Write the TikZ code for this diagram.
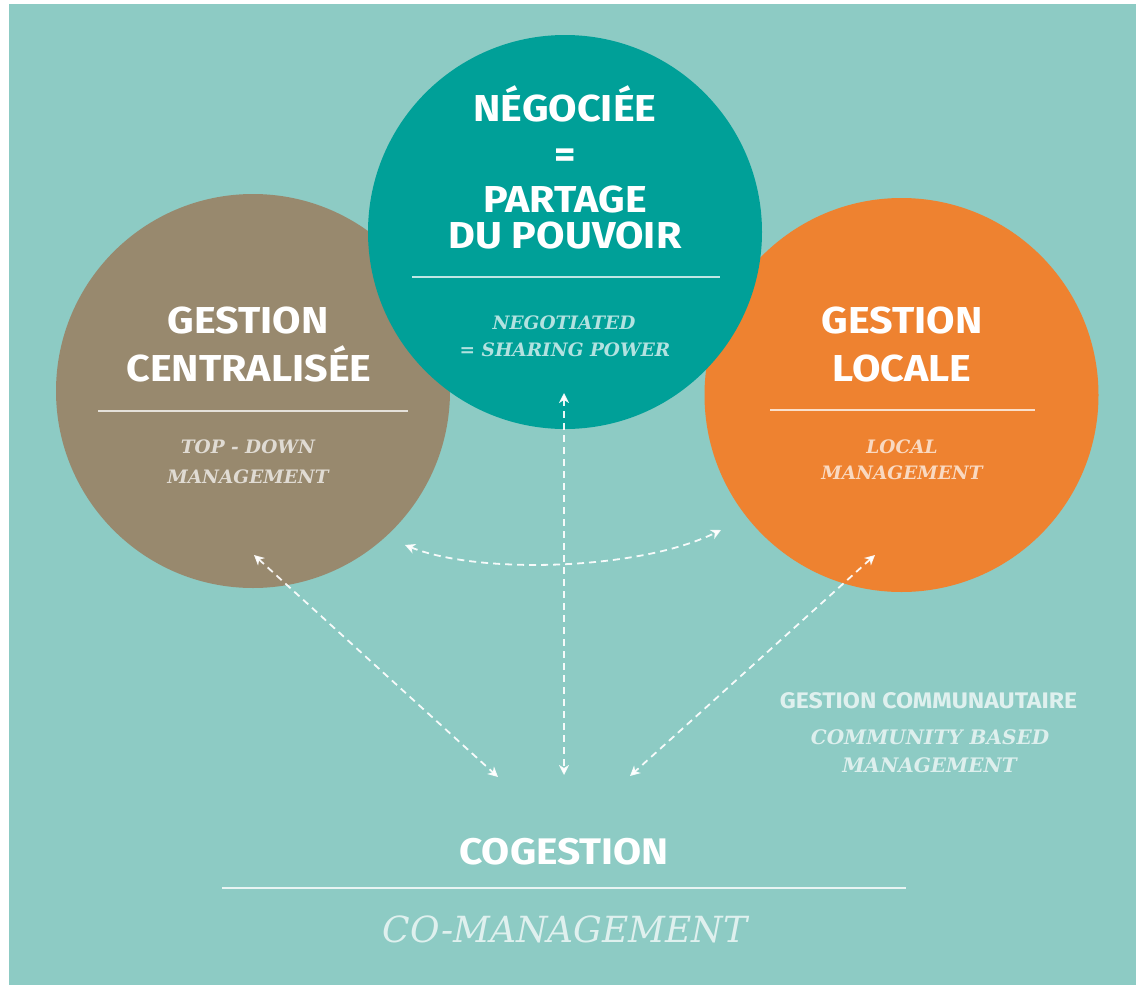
\documentclass[tikz,border=0pt]{standalone}
\usepackage{fontspec}
\setmainfont{Fira Sans}
\newfontfamily\tfont{Fira Sans}[FakeStretch=1.1]
\newfontfamily\slab{DejaVu Serif}
\usetikzlibrary{arrows.meta}
\definecolor{bgteal}{RGB}{141,203,196}
\definecolor{cbrown}{RGB}{152,137,110}
\definecolor{cteal}{RGB}{0,160,152}
\definecolor{corange}{RGB}{238,130,48}
\tikzset{
  disc/.style={circle, inner sep=0pt, minimum size=394pt},
  ttl/.style={anchor=base, text=white, inner sep=0pt, font=\tfont\bfseries\fontsize{37.5}{37.5}\selectfont},
  sub/.style={anchor=base, text=white, text opacity=0.7, inner sep=0pt, font=\slab\bfseries\itshape\fontsize{18.5}{18.5}\selectfont},
  sep/.style={draw=white, draw opacity=0.75, line width=1.4pt},
  link/.style={draw=white, draw opacity=0.92, line width=1.8pt, dash pattern=on 7pt off 5pt,
    {Stealth[length=10pt,width=10pt,inset=3pt]}-{Stealth[length=10pt,width=10pt,inset=3pt]}}
}
\begin{document}
\begin{tikzpicture}[x=1pt,y=-1pt]
\useasboundingbox (0,0) rectangle (1138,985);
\fill[white] (0,0) rectangle (1138,985);
\fill[bgteal] (9,4) rectangle (1136,985);
% circles
\node[disc, fill=cbrown] (cb) at (253,391) {};
\node[disc, fill=corange] (co) at (901.5,395) {};
\node[disc, fill=cteal] (ct) at (565,232) {};
% teal circle text
\node[ttl] (t1) at (565,121) {NÉGOCIÉE};
\node[ttl] (t2) at (565,167) {=};
\node[ttl] (t3) at (565,212) {PARTAGE};
\node[ttl] (t4) at (565,248) {DU POUVOIR};
\draw[sep] (412,277) -- (720,277);
\node[sub] (t5) at (564,329) {NEGOTIATED};
\node[sub] (t6) at (565,356) {= SHARING POWER};
% brown circle text
\node[ttl] (b1) at (248,333) {GESTION};
\node[ttl] (b2) at (249,381) {CENTRALISÉE};
\draw[sep] (98,411) -- (408,411);
\node[sub] (b3) at (248,453) {TOP - DOWN};
\node[sub] (b4) at (248,483) {MANAGEMENT};
% orange circle text
\node[ttl] (o1) at (902,333) {GESTION};
\node[ttl] (o2) at (902,381) {LOCALE};
\draw[sep] (770,410) -- (1035,410);
\node[sub] (o3) at (902,453) {LOCAL};
\node[sub] (o4) at (902,479) {MANAGEMENT};
% community text
\node[anchor=base, inner sep=0pt, text=white, text opacity=0.72, font=\tfont\bfseries\fontsize{22.5}{22.5}\selectfont] (g1) at (928.5,708) {GESTION COMMUNAUTAIRE};
\node[sub, font=\slab\bfseries\itshape\fontsize{20}{20}\selectfont] (g2) at (930,744) {COMMUNITY BASED};
\node[sub, font=\slab\bfseries\itshape\fontsize{20}{20}\selectfont] (g3) at (929.5,772) {MANAGEMENT};
% bottom
\node[ttl, font=\tfont\bfseries\fontsize{37}{37}\selectfont] (c1) at (564,864) {COGESTION};
\draw[draw=white, draw opacity=0.8, line width=2.4pt] (222,888) -- (906,888);
\node[anchor=base, inner sep=0pt, text=white, text opacity=0.72, font=\slab\itshape\fontsize{36}{36}\selectfont] (c2) at (565,942) {CO-MANAGEMENT};
% arrows
\coordinate (aL1) at (254,555);
\coordinate (aL2) at (498,777);
\coordinate (aC1) at (564,393);
\coordinate (aC2) at (564,775);
\coordinate (aR1) at (875,555);
\coordinate (aR2) at (630,776);
\coordinate (aA1) at (405,545);
\coordinate (aA2) at (721,530);
\draw[link] (aL1) -- (aL2);
\draw[link] (aC1) -- (aC2);
\draw[link] (aR1) -- (aR2);
\draw[link] (aA1) .. controls (480,575) and (640,570) .. (aA2);
\end{tikzpicture}
\end{document}
